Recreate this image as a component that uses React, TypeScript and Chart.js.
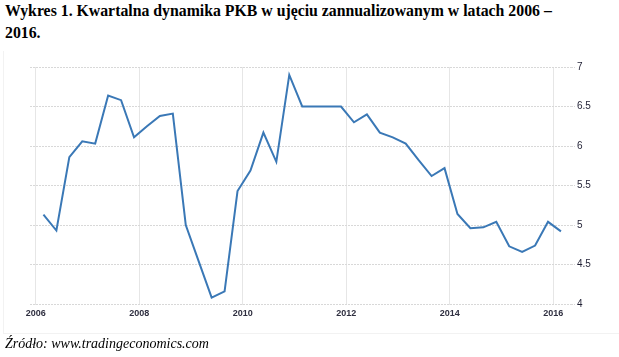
import React, { useEffect, useRef } from "react";
import { Chart, registerables } from "chart.js";

Chart.register(...registerables);

const titleLine1 = "Wykres 1. Kwartalna dynamika PKB w ujęciu zannualizowanym w latach 2006 –";
const titleLine2 = "2016.";
const sourceText = "Źródło: www.tradingeconomics.com";

const quarters = [
  "2006 Q1", "2006 Q2", "2006 Q3", "2006 Q4",
  "2007 Q1", "2007 Q2", "2007 Q3", "2007 Q4",
  "2008 Q1", "2008 Q2", "2008 Q3", "2008 Q4",
  "2009 Q1", "2009 Q2", "2009 Q3", "2009 Q4",
  "2010 Q1", "2010 Q2", "2010 Q3", "2010 Q4",
  "2011 Q1", "2011 Q2", "2011 Q3", "2011 Q4",
  "2012 Q1", "2012 Q2", "2012 Q3", "2012 Q4",
  "2013 Q1", "2013 Q2", "2013 Q3", "2013 Q4",
  "2014 Q1", "2014 Q2", "2014 Q3", "2014 Q4",
  "2015 Q1", "2015 Q2", "2015 Q3", "2015 Q4",
  "2016 Q1",
];

const gdpGrowth = [
  5.13, 4.93, 5.86, 6.06, 6.03, 6.64, 6.58, 6.11, 6.25, 6.38, 6.41,
  5.0, 4.54, 4.08, 4.16, 5.43, 5.69, 6.17, 5.8, 6.9, 6.5,
  6.5, 6.5, 6.5,
  6.3, 6.4, 6.17, 6.11, 6.03, 5.82, 5.62, 5.72, 5.14, 4.96, 4.97, 5.04,
  4.73, 4.66, 4.74, 5.04, 4.92,
];

const xTickYears = [2006, 2008, 2010, 2012, 2014, 2016];
const yTickValues = [4, 4.5, 5, 5.5, 6, 6.5, 7];

function quarterToX(label: string): number {
  const [y, q] = label.split(" Q");
  return Number(y) + (Number(q) - 1) * 0.25 + 0.15;
}

export default function App() {
  const ref = useRef<HTMLCanvasElement | null>(null);

  useEffect(() => {
    if (!ref.current) return;
    const points = quarters.map((q, i) => ({ x: quarterToX(q), y: gdpGrowth[i] }));
    const chart = new Chart(ref.current, {
      type: "line",
      data: {
        datasets: [
          {
            data: points,
            borderColor: "#3a78b6",
            borderWidth: 2,
            pointRadius: 0,
            tension: 0,
            fill: false,
          },
        ],
      },
      options: {
        animation: false,
        responsive: false,
        maintainAspectRatio: false,
        layout: { padding: { left: 30, top: 67, right: 18, bottom: 33 } },
        plugins: { legend: { display: false }, tooltip: { enabled: false }, title: { display: false } },
        scales: {
          x: {
            type: "linear",
            min: 2005.89,
            max: 2016.344,
            afterBuildTicks: (s: any) => {
              s.ticks = xTickYears.map((v) => ({ value: v }));
            },
            afterFit: (s: any) => {
              s.height = 20;
            },
            grid: {
              color: "#e6e6e6",
              lineWidth: 1,
              drawTicks: true,
              tickLength: 1,
            },
            border: { display: false },
            ticks: {
              padding: 3,
              maxRotation: 0,
              autoSkip: false,
              color: "#2f2f40",
              font: { family: "'Liberation Sans', Arial, sans-serif", size: 9, weight: "bold" },
              callback: (v: any) => String(v),
            },
          },
          y: {
            position: "right",
            min: 4,
            max: 7,
            afterBuildTicks: (s: any) => {
              s.ticks = yTickValues.map((v) => ({ value: v }));
            },
            afterFit: (s: any) => {
              s.width = 30;
            },
            grid: {
              color: "#d8d8d8",
              lineWidth: 1,
              drawTicks: true,
              tickLength: 4,
              tickColor: "#d8d8d8",
              tickBorderDash: [2, 1],
            },
            border: { display: false, dash: [2, 1] },
            ticks: {
              padding: 2,
              crossAlign: "near",
              color: "#1f1f33",
              font: { family: "'Liberation Sans', Arial, sans-serif", size: 10 },
              callback: (v: any) => String(v),
            },
          },
        },
      },
    } as any);
    return () => chart.destroy();
  }, []);

  return (
    <div style={{ position: "fixed", left: 0, top: 0, width: 619, height: 357, background: "#fff", overflow: "hidden" }}>
      <div
        style={{
          position: "absolute",
          left: 5,
          top: 0,
          fontFamily: "'Liberation Serif', 'Times New Roman', serif",
          fontWeight: "bold",
          fontSize: 15.8,
          lineHeight: "22px",
          color: "#000",
          whiteSpace: "nowrap",
        }}
      >
        <div>{titleLine1}</div>
        <div>{titleLine2}</div>
      </div>
      <div
        style={{
          position: "absolute",
          left: 3,
          top: 51,
          width: 640,
          height: 282,
          borderLeft: "1px solid #f2f2f2",
          borderBottom: "1px solid #f2f2f2",
        }}
      />
      <canvas ref={ref} width={619} height={357} style={{ position: "absolute", left: 0, top: 0 }} />
      <div
        style={{
          position: "absolute",
          left: 5,
          top: 335,
          fontFamily: "'Liberation Serif', 'Times New Roman', serif",
          fontStyle: "italic",
          fontSize: 14,
          lineHeight: "18px",
          color: "#000",
          whiteSpace: "nowrap",
        }}
      >
        {sourceText}
      </div>
    </div>
  );
}
